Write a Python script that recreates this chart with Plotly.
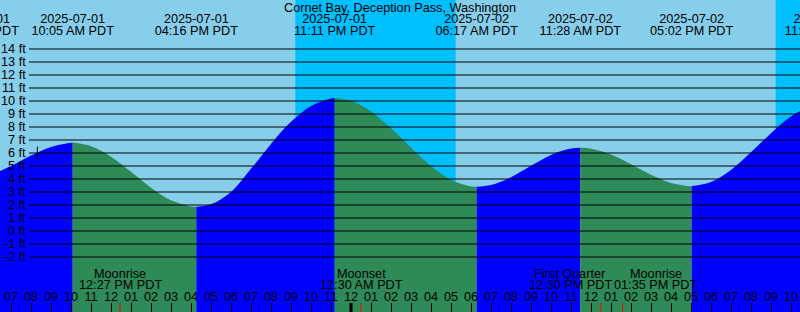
import plotly.graph_objects as go
import pandas as pd

# ---------------- data ----------------
title = "Cornet Bay, Deception Pass, Washington"

# tide extremes (local time PDT) and heights (ft)
event_times = ["2025-07-01 05:20", "2025-07-01 10:05", "2025-07-01 16:16", "2025-07-01 23:11",
               "2025-07-02 06:17", "2025-07-02 11:28", "2025-07-02 17:02", "2025-07-02 23:45"]
event_heights = [4.25, 6.8, 1.87, 10.23, 3.4, 6.4, 3.45, 9.8]

# hourly tide heights, 2025-07-01 06:00 .. 2025-07-02 23:00
hour_times = pd.date_range("2025-07-01 06:00", "2025-07-02 23:00", freq="h")
hour_heights = [4.38, 5.0, 5.8, 6.47, 6.79, 6.52, 5.72, 4.55, 3.33, 2.36, 1.89, 2.05,
                3.0, 4.78, 6.7, 8.4, 9.62, 10.2,
                10.01, 9.19, 7.9, 6.41, 5.0, 3.94, 3.43, 3.54, 4.14, 5.01, 5.85, 6.34,
                6.33, 5.88, 5.13, 4.32, 3.70, 3.45, 3.77, 4.7, 6.05, 7.52, 8.8, 9.61]

# sun: night periods (sunset -> sunrise)
night_starts = ["2025-07-01 21:13", "2025-07-02 21:14"]
night_ends = ["2025-07-02 05:14", "2025-07-03 05:15"]

# moon events
moon_times = ["2025-07-01 12:27", "2025-07-02 00:30", "2025-07-02 12:30", "2025-07-02 13:35"]
moon_names = ["Moonrise", "Moonset", "First Quarter", "Moonrise"]

# y axis ticks (ft)
y_ticks = list(range(-2, 15))

# ---------------- styling / layout constants ----------------
FONT = "Liberation Sans"
FS = 12.7
DAY = "#87CEEB"
NIGHT = "#00BFFF"
RISE = "#0000FF"
FALL = "#2E8B57"
X_START = pd.Timestamp("2025-07-01 06:27:00")
X_END = pd.Timestamp("2025-07-02 22:27:00")
Y_RANGE = [-81 / 13, 231 / 13]
BOTTOM = -10
DATE_Y, TIME_Y = 16.22, 15.3
MOON_NAME_Y, MOON_TIME_Y = -3.27, -4.15
HOUR_Y = -5.12
moon_label_shift = [0, 0, -31, 33]
now_time, now_level = "2025-07-01 08:19", 6.0

ev_t = pd.to_datetime(event_times)
pts = sorted(list(zip(ev_t, event_heights)) + list(zip(hour_times, hour_heights)))

fig = go.Figure()

# tide segments between consecutive extremes
for i in range(len(ev_t) - 1):
    t0, t1 = ev_t[i], ev_t[i + 1]
    seg = [(t, h) for t, h in pts if t0 <= t <= t1]
    xs, ys = [], []
    for t, h in seg:
        if xs and xs[-1] == t:
            continue
        xs.append(t)
        ys.append(h)
    color = RISE if event_heights[i + 1] > event_heights[i] else FALL
    fig.add_trace(go.Scatter(x=[t0, t1], y=[BOTTOM, BOTTOM], mode="lines",
                             line=dict(width=0), hoverinfo="skip", showlegend=False))
    fig.add_trace(go.Scatter(x=xs, y=ys, mode="lines", line=dict(width=0, shape="spline", smoothing=1),
                             fill="tonexty", fillcolor=color, hoverinfo="skip", showlegend=False))

# now marker
fig.add_trace(go.Scatter(x=[pd.Timestamp(now_time)], y=[now_level], mode="markers",
                         marker=dict(symbol="line-ns", size=9, line=dict(width=1, color="black")),
                         showlegend=False, hoverinfo="skip"))

# tide event labels at top
fig.add_trace(go.Scatter(x=ev_t, y=[DATE_Y] * len(ev_t), mode="text",
                         text=[t.strftime("%Y-%m-%d") for t in ev_t],
                         textfont=dict(family=FONT, size=FS, color="black"),
                         textposition="middle center", showlegend=False, hoverinfo="skip"))
fig.add_trace(go.Scatter(x=ev_t, y=[TIME_Y] * len(ev_t), mode="text",
                         text=[t.strftime("%I:%M %p PDT") for t in ev_t],
                         textfont=dict(family=FONT, size=FS, color="black"),
                         textposition="middle center", showlegend=False, hoverinfo="skip"))

# hour labels at bottom
hl = [t for t in hour_times if X_START <= t <= X_END]
fig.add_trace(go.Scatter(x=hl, y=[HOUR_Y] * len(hl), mode="text",
                         text=[t.strftime("%I") for t in hl],
                         textfont=dict(family=FONT, size=FS, color="black"),
                         textposition="middle center", showlegend=False, hoverinfo="skip"))

shapes = []
for s, e in zip(night_starts, night_ends):
    shapes.append(dict(type="rect", xref="x", yref="paper", x0=s, x1=e, y0=0, y1=1,
                       fillcolor=NIGHT, line=dict(width=0), layer="below"))
for v in y_ticks:
    shapes.append(dict(type="line", xref="paper", yref="y", x0=29 / 800, x1=1, y0=v, y1=v,
                       line=dict(color="black", width=1), layer="above"))
for t in hour_times:
    if t.hour == 0 and X_START <= t <= X_END:
        shapes.append(dict(type="line", xref="x", yref="paper", x0=t, x1=t, y0=0, y1=9 / 312,
                           line=dict(color="black", width=3), layer="above"))
for t in moon_times:
    shapes.append(dict(type="line", xref="x", yref="paper", x0=t, x1=t, y0=0, y1=9 / 312,
                       line=dict(color="red", width=1), layer="above"))

annotations = [dict(text=title, xref="paper", yref="paper", x=0.5, y=1 - 7.5 / 312,
                    xanchor="center", yanchor="middle", showarrow=False,
                    font=dict(family=FONT, size=FS, color="black"))]
for v in y_ticks:
    annotations.append(dict(text=f"{v} ft", xref="paper", yref="y", x=28 / 800, y=v,
                            xanchor="right", yanchor="middle", showarrow=False,
                            font=dict(family=FONT, size=FS, color="black")))
for t, name, sh in zip(pd.to_datetime(moon_times), moon_names, moon_label_shift):
    annotations.append(dict(text=name, xref="x", yref="y", x=t, y=MOON_NAME_Y, xshift=sh,
                            xanchor="center", yanchor="middle", showarrow=False,
                            font=dict(family=FONT, size=FS, color="black")))
    annotations.append(dict(text=t.strftime("%I:%M %p PDT"), xref="x", yref="y", x=t, y=MOON_TIME_Y,
                            xshift=sh, xanchor="center", yanchor="middle", showarrow=False,
                            font=dict(family=FONT, size=FS, color="black")))

fig.update_layout(
    width=800, height=312, margin=dict(l=0, r=0, t=0, b=0, pad=0),
    paper_bgcolor=DAY, plot_bgcolor=DAY, showlegend=False,
    shapes=shapes, annotations=annotations,
    xaxis=dict(type="date", range=[X_START, X_END], showgrid=False, zeroline=False,
               showline=False, showticklabels=False, ticks="inside", ticklen=9, tickwidth=1,
               tickcolor="black", dtick=3600000, tick0="2025-07-01 07:00", fixedrange=True),
    yaxis=dict(range=Y_RANGE, showgrid=False, zeroline=False, showline=False,
               showticklabels=False, ticks="", fixedrange=True),
)

fig.write_html("out.html")
